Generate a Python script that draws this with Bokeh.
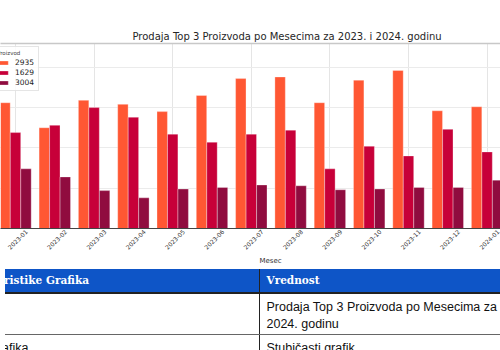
import math
from bokeh.plotting import figure
from bokeh.models import (Range1d, LinearAxis, FixedTicker, Legend, LegendItem,
                          ColumnDataSource, Div, Grid, Title)
from bokeh.transform import dodge
from bokeh.layouts import column
from bokeh.embed import file_html
from bokeh.resources import INLINE

# ---- data ----
months = ["2023-01", "2023-02", "2023-03", "2023-04", "2023-05", "2023-06", "2023-07",
          "2023-08", "2023-09", "2023-10", "2023-11", "2023-12", "2024-01"]
products = ["2935", "1629", "3004"]
sales_2935 = [156, 125, 159, 154, 145, 165, 186, 188, 156, 184, 196, 146, 151]
sales_1629 = [119, 128, 150, 138, 117, 107, 117, 122, 74, 102, 90, 123, 95]
sales_3004 = [74, 64, 47, 38, 49, 51, 54, 53, 48, 49, 51, 51, 60]
colors = ["#FF5733", "#C70039", "#900C3F"]

title_text = "Prodaja Top 3 Proizvoda po Mesecima za 2023. i 2024. godinu"
x_label = "Mesec"
table_header = ["Karakteristike Grafika", "Vrednost"]
table_rows = [["Naslov", title_text], ["Vrsta Grafika", "Stubičasti grafik"]]

idx = list(range(len(months)))
src = ColumnDataSource(dict(x=idx, s2935=sales_2935, s1629=sales_1629, s3004=sales_3004))

x0, x1 = -0.3817, 12.341
p = figure(width=500, height=264, output_backend="svg", toolbar_location=None,
           x_range=Range1d(x0, x1), y_range=Range1d(0, 229.5),
           x_axis_location=None, y_axis_location=None,
           min_border_left=0, min_border_right=0, min_border_top=43, min_border_bottom=36,
           background_fill_color="white", border_fill_color="white")
p.outline_line_color = None

# grid
p.add_layout(Grid(dimension=1, ticker=FixedTicker(ticks=[50, 100, 150, 200]),
                  grid_line_color="#ebebeb", grid_line_width=1))

bw = 0.265
r1 = p.vbar(x=dodge("x", -0.267, range=p.x_range), top="s2935", width=bw, source=src,
            fill_color=colors[0], line_color="white", line_alpha=0.5, line_width=0.6)
r2 = p.vbar(x=dodge("x", 0.0, range=p.x_range), top="s1629", width=bw, source=src,
            fill_color=colors[1], line_color="white", line_alpha=0.5, line_width=0.6)
r3 = p.vbar(x=dodge("x", 0.267, range=p.x_range), top="s3004", width=bw, source=src,
            fill_color=colors[2], line_color="white", line_alpha=0.5, line_width=0.6)

# bottom axis (label range shifted so rotated labels sit centred under their ticks)
shift = 11 / 39.3
p.extra_x_ranges = {"lab": Range1d(x0 - shift, x1 - shift)}
xa = LinearAxis(x_range_name="lab", ticker=FixedTicker(ticks=idx),
                major_label_overrides={i: m for i, m in zip(idx, months)},
                major_label_orientation=math.pi / 4,
                major_tick_out=0, major_tick_in=0, minor_tick_out=0, minor_tick_in=0,
                axis_line_color="#444444", axis_line_width=1,
                major_label_text_font_size="6px", major_label_text_color="#333333",
                major_label_text_font="DejaVu Sans", major_label_standoff=2)
p.add_layout(xa, "below")

# x axis title (placed like the reference, right of frame centre)
p.add_layout(Title(text=x_label, text_font="DejaVu Sans", text_font_size="7px",
                   text_font_style="normal", text_color="#333333", align="left",
                   offset=259, standoff=0), "below")

# top spine
ta = LinearAxis(ticker=FixedTicker(ticks=[]), major_tick_out=0, major_tick_in=0,
                minor_tick_out=0, minor_tick_in=0, major_label_text_font_size="0px",
                axis_line_color="#c8c8c8", axis_line_width=1.5)
p.add_layout(ta, "above")

p.title.text = title_text
p.title.text_font = "DejaVu Sans"
p.title.text_font_size = "10px"
p.title.text_font_style = "normal"
p.title.text_color = "#262626"
p.title.align = "left"
p.title.offset = 132
p.title.standoff = 3

legend = Legend(items=[LegendItem(label=products[0], renderers=[r1]),
                       LegendItem(label=products[1], renderers=[r2]),
                       LegendItem(label=products[2], renderers=[r3])],
                location=(-7, 137), title="Proizvod",
                title_text_font_size="5.5px", title_text_font="DejaVu Sans",
                title_text_font_style="normal", title_standoff=2,
                label_text_font_size="7.5px", label_text_font="DejaVu Sans",
                label_text_color="#222222", label_height=8, label_standoff=6,
                glyph_width=12, glyph_height=5, spacing=1, padding=3, margin=0,
                background_fill_alpha=0.85, border_line_color="#cccccc")
p.add_layout(legend)

cell = "padding:5px 7px 2px 7px;vertical-align:top;line-height:16.5px;"
th = ("height:26px;padding:0 7px;text-align:left;vertical-align:middle;"
      "font-family:'DejaVu Serif',serif;font-size:10.5px;font-weight:bold;"
      "border-top:2px solid #222;border-bottom:2px solid #222;")
rows_html = ""
for a, b in table_rows:
    rows_html += (f"<tr><td style=\"{cell}border-right:1px solid #222;border-bottom:1px solid #666;\">{a}</td>"
                  f"<td style=\"{cell}border-bottom:1px solid #666;\">{b}</td></tr>")
html = (
    "<div style=\"width:500px;height:86px;overflow:hidden;position:relative;background:#fff;\">"
    "<table style=\"position:absolute;left:-56px;top:-3px;border-collapse:collapse;table-layout:fixed;width:610px;"
    "font-family:'Liberation Sans',Arial,sans-serif;font-size:12.5px;color:#111;\">"
    "<colgroup><col style=\"width:310px\"><col style=\"width:300px\"></colgroup>"
    f"<tr style=\"background:#0e55c7;color:#fff;\"><th style=\"{th}padding-left:8px;border-right:1px solid #222;\">{table_header[0]}</th>"
    f"<th style=\"{th}\">{table_header[1]}</th></tr>"
    f"{rows_html}</table></div>"
)
div = Div(text=html, width=500, height=86)

layout = column(p, div, spacing=0)
open("out.html", "w").write(file_html(layout, INLINE))
